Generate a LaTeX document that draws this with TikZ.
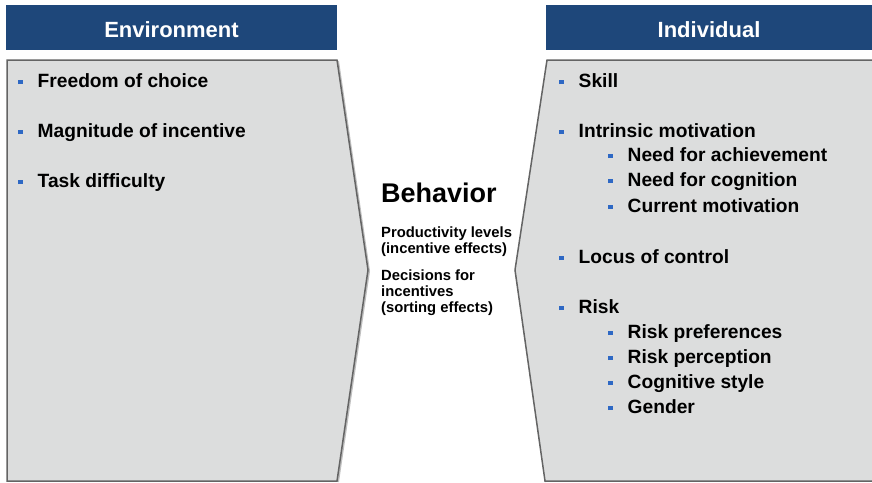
\documentclass[tikz,border=0pt]{standalone}
\usepackage{fontspec}
\setmainfont{Liberation Sans}
\definecolor{headblue}{RGB}{30,71,122}
\definecolor{panelgrey}{RGB}{220,221,221}
\definecolor{edgegrey}{RGB}{100,100,100}
\definecolor{bulletblue}{RGB}{46,104,196}
\newcommand\sqbul{\textcolor{bulletblue}{\rule[3pt]{4.5pt}{4.5pt}}\hspace{15pt}}
\begin{document}
\begin{tikzpicture}[x=1pt,y=-1pt,
  headtext/.style={text=white,font=\fontsize{22}{26}\selectfont\bfseries,anchor=base,inner sep=0pt},
  panel/.style={fill=panelgrey,draw=edgegrey,line width=1.5pt,line join=miter},
  shadow/.style={draw=black!25,line width=2pt},
  item/.style={anchor=base west,inner sep=0pt,font=\fontsize{19.2}{22}\selectfont\bfseries},
  subtext/.style={anchor=base west,inner sep=0pt,font=\fontsize{14.8}{17}\selectfont\bfseries}]
\useasboundingbox (0,0) rectangle (872,482);
\clip (0,0) rectangle (872,482);
% headers
\fill[headblue] (6,5) rectangle (337,50);
\fill[headblue] (546,5) rectangle (880,50);
\node[headtext] (envh) at (171.5,37) {Environment};
\node[headtext] (indh) at (709,37) {Individual};
% panels with soft shadow
\draw[shadow] (338,61) -- (369,271) -- (338,482);
\draw[panel] (7,60) -- (337,60) -- (368,270) -- (337,481) -- (7,481) -- cycle;
\draw[shadow] (548,61) -- (516,271) -- (546,482);
\draw[panel] (547,60) -- (890,60) -- (890,481) -- (545,481) -- (515,270) -- cycle;
% environment items
\node[item] (e1) at (18,87) {\sqbul Freedom of choice};
\node[item] (e2) at (18,137) {\sqbul Magnitude of incentive};
\node[item] (e3) at (18,187) {\sqbul Task difficulty};
% behaviour in the middle
\node[anchor=base west,inner sep=0pt,font=\fontsize{27}{30}\selectfont\bfseries] (beh) at (381,202) {Behavior};
\node[subtext] (b1) at (381,237) {Productivity levels};
\node[subtext] (b2) at (381,253) {(incentive effects)};
\node[subtext] (b3) at (381,280) {Decisions for};
\node[subtext] (b4) at (381,296) {incentives};
\node[subtext] (b5) at (381,312) {(sorting effects)};
% individual items
\node[item] (i1) at (559,87) {\sqbul Skill};
\node[item] (i2) at (559,137) {\sqbul Intrinsic motivation};
\node[item] (i2a) at (608,161) {\sqbul Need for achievement};
\node[item] (i2b) at (608,186) {\sqbul Need for cognition};
\node[item] (i2c) at (608,212) {\sqbul Current motivation};
\node[item] (i3) at (559,263) {\sqbul Locus of control};
\node[item] (i4) at (559,313) {\sqbul Risk};
\node[item] (i4a) at (608,338) {\sqbul Risk preferences};
\node[item] (i4b) at (608,363) {\sqbul Risk perception};
\node[item] (i4c) at (608,388) {\sqbul Cognitive style};
\node[item] (i4d) at (608,413) {\sqbul Gender};
\end{tikzpicture}
\end{document}
